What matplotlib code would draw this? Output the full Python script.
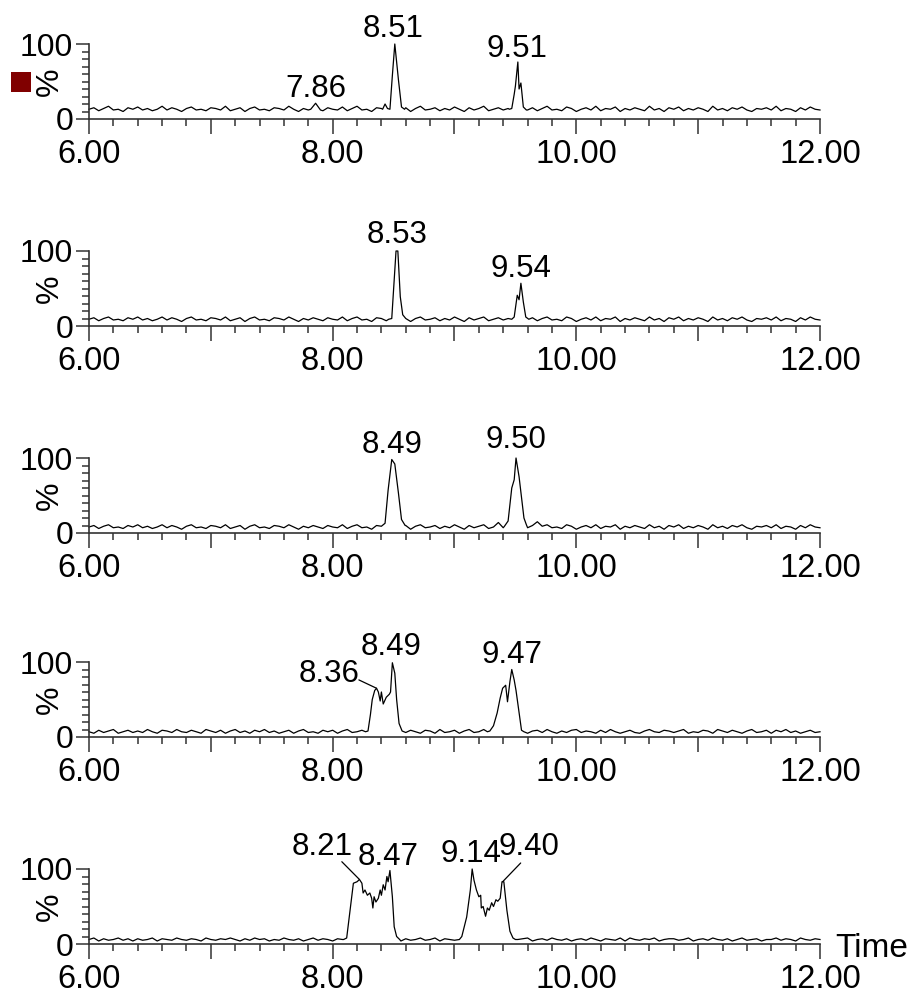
import numpy as np
import matplotlib
matplotlib.use('Agg')
import matplotlib.pyplot as plt
from matplotlib.ticker import MultipleLocator, FixedLocator, FuncFormatter
from matplotlib.patches import Rectangle

plt.rcParams['font.family'] = ['Liberation Sans', 'DejaVu Sans']

# baseline noise per channel, evenly spaced scans from 6.00 to 12.00 min (% of max)
base1 = [13,15,11,14,17,12,13,10,15,13, 16,12,14,11,13,17,12,15,13,10,
         14,16,12,13,11,15,14,12,17,11, 13,15,10,14,16,12,13,11,15,14,
         12,17,13,10,14,12,16,13,11,15, 13,12,16,11,14,17,12,13,10,15,
         14,11,16,12,13,15,10,14,17,12, 13,15,11,14,12,16,13,10,15,12,
         14,17,11,13,15,12,14,10,16,13, 12,15,11,14,17,12,13,11,16,14,
         10,13,15,12,17,11,14,13,16,10, 14,12,15,13,11,17,12,14,10,15,
         13,16,11,14,12,15,13,10,17,12, 14,11,15,13,16,12,10,14,13,15,
         12,17,11,14,13,10,15,12,16,13, 12]
base2 = [9,11,7,10,12,8,9,7,11,9, 12,8,10,7,9,12,8,11,9,6,
         10,12,8,9,7,11,10,8,12,7, 9,11,6,10,12,8,9,7,11,10,
         8,12,9,6,10,8,11,9,7,11, 9,8,12,7,10,12,8,9,6,11,
         10,7,12,8,9,11,6,10,12,8, 9,11,7,10,8,12,9,6,11,8,
         10,12,7,9,11,8,10,6,12,9, 8,11,7,10,12,8,9,7,12,10,
         6,9,11,8,12,7,10,9,12,6, 10,8,11,9,7,12,8,10,6,11,
         9,12,7,10,8,11,9,6,12,8, 10,7,11,9,12,8,6,10,9,11,
         8,12,7,10,9,6,11,8,12,9, 8]
base3 = [8,10,6,9,11,7,8,6,10,8, 11,7,9,6,8,11,7,10,8,5,
         9,11,7,8,6,10,9,7,11,6, 8,10,5,9,11,7,8,6,10,9,
         7,11,8,5,9,7,10,8,6,10, 8,7,11,6,9,11,7,8,5,10,
         9,6,11,7,8,10,5,9,11,7, 8,10,6,9,7,11,8,5,10,7,
         9,11,6,8,14,7,9,5,11,8, 7,10,15,9,11,7,8,6,11,9,
         5,8,10,7,11,6,9,8,11,5, 9,7,10,8,6,11,7,9,5,10,
         8,11,6,9,7,10,8,5,11,7, 9,6,10,8,11,7,5,9,8,10,
         7,11,6,9,8,5,10,7,11,8, 7]
base4 = [7,5,9,6,8,10,5,7,9,6, 8,6,10,7,5,9,8,6,10,7,
         6,9,7,5,10,8,6,9,5,8, 10,6,8,5,9,7,10,6,8,5,
         7,9,5,8,10,6,7,5,9,7, 9,5,8,10,6,7,9,5,8,6,
         6,10,7,5,8,6,9,7,5,9, 8,5,10,6,7,9,5,8,10,6,
         7,10,6,8,5,9,7,6,10,8, 5,8,9,6,10,7,5,8,6,9,
         10,6,8,7,5,9,6,10,7,5, 7,9,6,5,8,10,7,6,9,8,
         6,8,10,5,7,6,9,8,5,10, 8,6,9,7,5,8,10,6,7,9,
         5,9,7,10,6,8,5,7,9,6, 7]
base5 = [6,8,4,7,5,6,8,5,7,4, 7,5,6,8,4,7,6,5,8,6,
         5,7,6,4,8,6,5,7,6,8, 6,4,7,5,8,6,7,4,6,5,
         8,6,5,7,4,6,8,5,7,6, 4,7,6,8,5,6,4,7,5,8,
         7,5,8,6,4,7,5,6,8,5, 6,8,4,7,6,5,7,4,8,6,
         5,6,8,4,7,6,5,8,6,7, 8,4,6,7,5,8,6,5,7,4,
         6,7,5,8,6,4,7,6,5,8, 4,8,6,5,7,6,8,4,6,7,
         7,5,6,8,4,6,7,5,8,6, 5,7,4,6,8,5,6,7,4,6,
         6,8,5,7,6,4,8,6,5,7, 6]

# peak segments: (times, intensities)
peaks1 = [([7.82, 7.86, 7.90], [13, 21, 12]),
          ([8.41, 8.43, 8.45, 8.47, 8.49, 8.51, 8.54, 8.565, 8.59],
           [13, 20, 14, 13, 58, 100, 52, 16, 13]),
          ([9.45, 9.47, 9.49, 9.50, 9.52, 9.53, 9.545, 9.565, 9.59],
           [13, 14, 33, 44, 76, 40, 48, 16, 12])]
peaks2 = [([8.46, 8.485, 8.505, 8.52, 8.535, 8.555, 8.575, 8.60],
           [9, 10, 61, 100, 100, 39, 15, 10]),
          ([9.47, 9.49, 9.505, 9.515, 9.53, 9.545, 9.565, 9.585, 9.61],
           [9, 12, 30, 41, 35, 57, 32, 12, 9])]
peaks3 = [([8.40, 8.43, 8.455, 8.485, 8.51, 8.54, 8.565, 8.595],
           [9, 13, 57, 98, 92, 53, 18, 10]),
          ([9.41, 9.44, 9.47, 9.49, 9.505, 9.53, 9.55, 9.57, 9.59],
           [9, 16, 60, 71, 100, 75, 48, 20, 11])]
peaks4 = [([8.27, 8.29, 8.31, 8.325, 8.345, 8.36, 8.375, 8.39, 8.40, 8.415,
            8.44, 8.465, 8.475, 8.49, 8.51, 8.525, 8.545, 8.57],
           [7, 8, 30, 50, 62, 65, 60, 48, 60, 44, 53, 57, 60, 99, 85, 50, 18, 8]),
          ([9.27, 9.29, 9.32, 9.35, 9.375, 9.395, 9.42, 9.435, 9.455, 9.47,
            9.49, 9.505, 9.525, 9.55, 9.57],
           [7, 8, 15, 32, 52, 65, 69, 47, 74, 90, 76, 62, 38, 9, 7])]
peaks5 = [([8.09, 8.115, 8.14, 8.17, 8.20, 8.22, 8.24, 8.25, 8.265, 8.285,
            8.305, 8.32, 8.33, 8.34, 8.355, 8.375, 8.39, 8.40, 8.415, 8.43,
            8.445, 8.455, 8.47, 8.49, 8.505, 8.525, 8.55],
           [6, 8, 41, 81, 83, 86, 81, 68, 72, 65, 68, 61, 48, 63, 56, 61, 72,
            65, 79, 72, 90, 83, 98, 63, 23, 10, 6]),
          ([9.04, 9.06, 9.10, 9.13, 9.145, 9.16, 9.18, 9.20, 9.215, 9.22,
            9.235, 9.255, 9.27, 9.285, 9.305, 9.32, 9.34, 9.355, 9.375, 9.39,
            9.405, 9.43, 9.455, 9.48, 9.50],
           [6, 10, 36, 72, 100, 85, 72, 63, 65, 48, 50, 37, 48, 45, 55, 50, 59,
            57, 61, 83, 83, 45, 17, 8, 6])]

# labelled retention times per channel
labels1 = ["7.86", "8.51", "9.51"]
label_t1 = [7.86, 8.51, 9.52]
labels2 = ["8.53", "9.54"]
label_t2 = [8.535, 9.545]
labels3 = ["8.49", "9.50"]
label_t3 = [8.485, 9.505]
labels4 = ["8.36", "8.49", "9.47"]
label_t4 = [8.36, 8.49, 9.47]
labels5 = ["8.21", "8.47", "9.14", "9.40"]
label_t5 = [8.22, 8.47, 9.145, 9.395]

channels = [(base1, peaks1, labels1, label_t1),
            (base2, peaks2, labels2, label_t2),
            (base3, peaks3, labels3, label_t3),
            (base4, peaks4, labels4, label_t4),
            (base5, peaks5, labels5, label_t5)]

# layout: text offsets (points) and optional leader start offsets, per channel
offsets = [[(0, 4.7, None), (-1, 5, None), (-0.5, 3.6, None)],
           [(-0.8, 5.5, None), (0, 4.7, None)],
           [(0, 4.9, None), (0, 7, None)],
           [(-34.5, 4.5, (-12.7, 6)), (-0.7, 5.6, None), (0, 4.7, None)],
           [(-27, 17.6, (-12.7, 12.8)), (-1, 4, None), (-1.2, 5.3, None),
            (18.7, 19.3, (13, 13.5))]]

W, H = 913, 994
zero_px = [119, 326, 533, 737, 944]


def build_trace(base, segs):
    t = np.linspace(6.0, 12.0, len(base))
    y = np.asarray(base, dtype=float)
    for st, sy in segs:
        keep = (t < st[0]) | (t > st[-1])
        t = np.concatenate([t[keep], st])
        y = np.concatenate([y[keep], sy])
    order = np.argsort(t)
    return t[order], y[order]


fig = plt.figure(figsize=(W / 100, H / 100), dpi=100)

for k, (base, segs, labs, lts) in enumerate(channels):
    ax = fig.add_axes([89 / W, 1 - zero_px[k] / H, 731 / W, 75 / H])
    t, y = build_trace(base, segs)
    ax.plot(t, y, color='black', lw=0.9, clip_on=False)
    ax.set_xlim(6, 12)
    ax.set_ylim(0, 100)
    for s in ('top', 'right'):
        ax.spines[s].set_visible(False)
    for s in ('left', 'bottom'):
        ax.spines[s].set_color('#333333')
        ax.spines[s].set_linewidth(1.2)

    ax.xaxis.set_major_locator(MultipleLocator(1))
    ax.xaxis.set_minor_locator(MultipleLocator(0.2))
    ax.xaxis.set_major_formatter(
        FuncFormatter(lambda v, p: f'{v:.2f}' if round(v) % 2 == 0 else ''))
    ax.yaxis.set_major_locator(FixedLocator([0, 100]))
    ax.yaxis.set_minor_locator(MultipleLocator(10))
    ax.tick_params(axis='x', which='major', length=10.8, width=1.1,
                   color='#333333', pad=3.5, labelsize=23.5)
    ax.tick_params(axis='x', which='minor', length=5, width=1.1, color='#333333')
    ax.tick_params(axis='y', which='major', length=9.4, width=1.1,
                   color='#333333', pad=2, labelsize=23)
    ax.tick_params(axis='y', which='minor', length=5, width=1.1, color='#333333')

    ax.text(-0.054, 0.5, '%', transform=ax.transAxes, rotation=90,
            ha='center', va='center', fontsize=23)

    for lab, lt, (dx, dy, lead) in zip(labs, lts, offsets[k]):
        py = np.interp(lt, t, y)
        ax.annotate(lab, xy=(lt, py), xytext=(dx, dy), textcoords='offset points',
                    ha='center', va='baseline', fontsize=22.5, annotation_clip=False)
        if lead is not None:
            ax.annotate('', xy=(lt, py), xytext=lead, textcoords='offset points',
                        annotation_clip=False,
                        arrowprops=dict(arrowstyle='-', lw=0.9, color='black',
                                        shrinkA=0, shrinkB=0))

    if k == len(channels) - 1:
        ax.text(1.0205, -0.17, 'Time', transform=ax.transAxes,
                ha='left', va='baseline', fontsize=24)

fig.add_artist(Rectangle((11 / W, 1 - 92 / H), 20 / W, 20 / H,
                         transform=fig.transFigure, color='#800000', lw=0))

fig.savefig('out.png', dpi=100)
